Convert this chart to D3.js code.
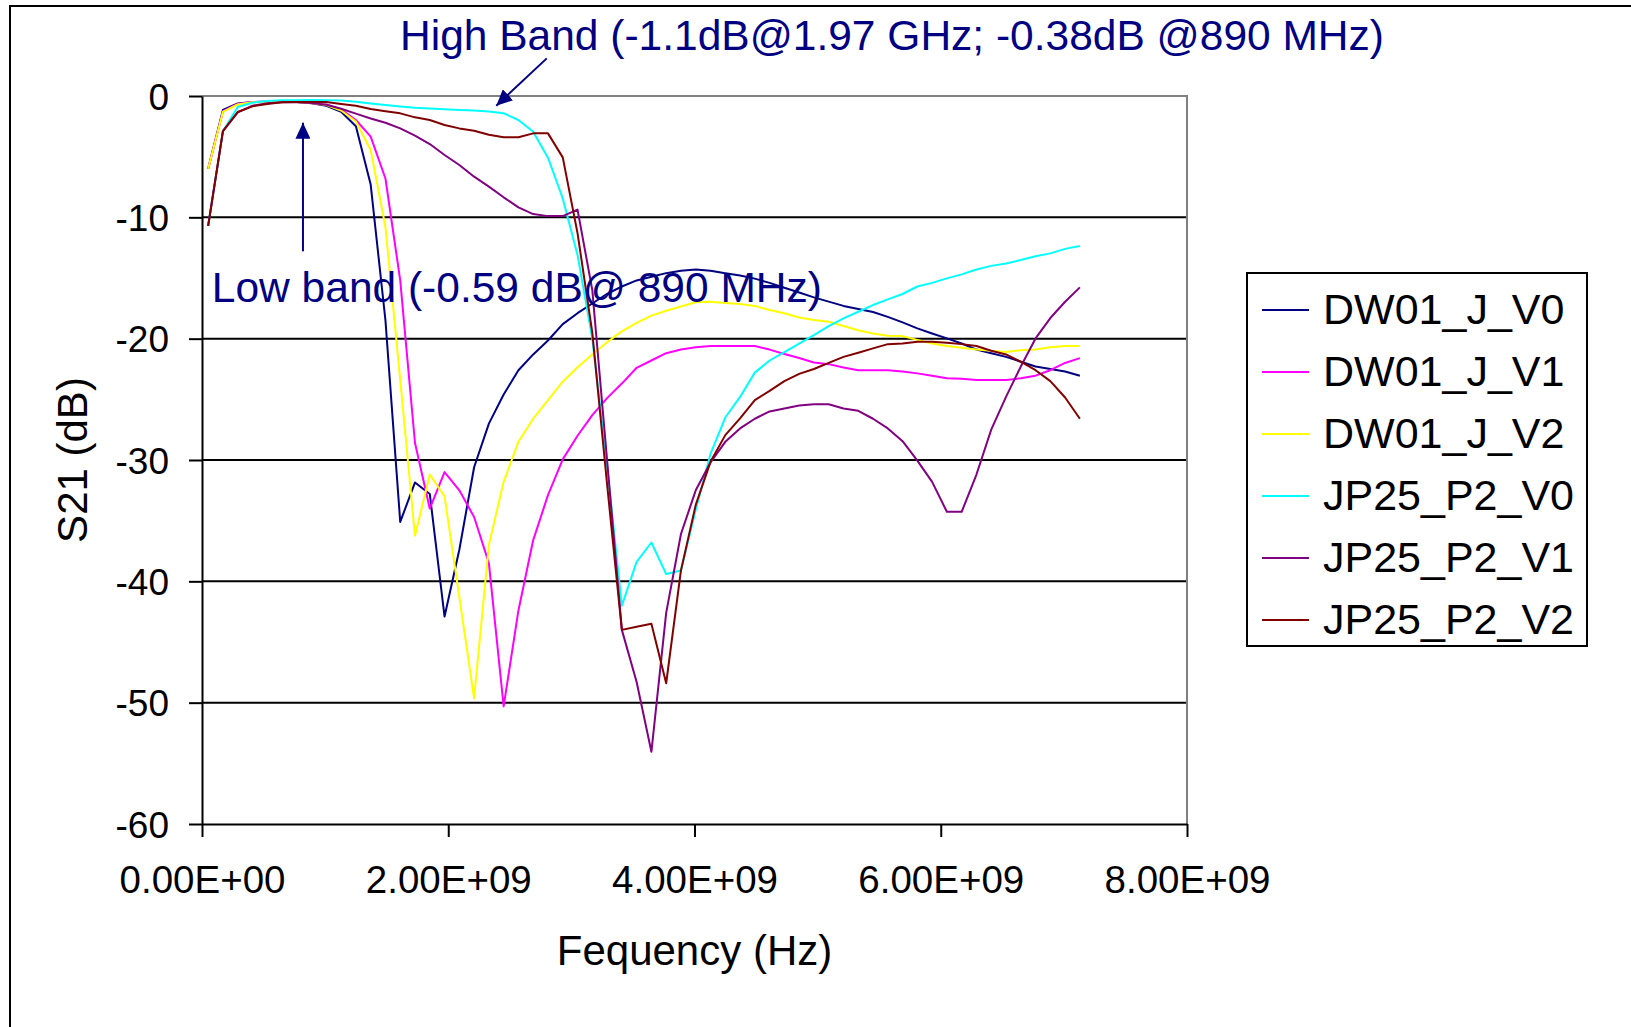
<!DOCTYPE html>
<html>
<head>
<meta charset="utf-8">
<script src="https://cdn.jsdelivr.net/npm/d3@7"></script>
<style>
  body { margin: 0; background: #fff; }
  text { font-family: "Liberation Sans", Arial, sans-serif; }
  .axis path, .axis line { stroke: #000; stroke-width: 2; }
  .axis text { font-size: 37px; fill: #000; }
  .xaxis text { font-size: 38.5px; }
</style>
</head>
<body>
<div id="my_dataviz"></div>
<script>
// Frequency points (GHz) and S21 readings (dB) per sample
var freqGHz = [0.05, 0.17, 0.29, 0.41, 0.53, 0.65, 0.77, 0.89, 1.01, 1.13,
    1.25, 1.37, 1.49, 1.61, 1.73, 1.85, 1.97, 2.09, 2.21, 2.33,
    2.45, 2.57, 2.69, 2.81, 2.93, 3.05, 3.17, 3.29, 3.41, 3.53,
    3.65, 3.77, 3.89, 4.01, 4.13, 4.25, 4.37, 4.49, 4.61, 4.73,
    4.85, 4.97, 5.09, 5.21, 5.33, 5.45, 5.57, 5.69, 5.81, 5.93,
    6.05, 6.17, 6.29, 6.41, 6.53, 6.65, 6.77, 6.89, 7.01, 7.13];

var dw01_v0 = [-6.0, -1.15, -0.62, -0.5, -0.47, -0.46, -0.5, -0.59, -0.8, -1.3,
    -2.5, -7.3, -18.5, -35.1, -31.85, -32.8, -42.9, -37.4, -30.6, -27.0,
    -24.6, -22.6, -21.3, -20.15, -18.8, -17.9, -17.1, -16.3, -15.7, -15.2,
    -14.9, -14.6, -14.4, -14.3, -14.4, -14.6, -14.8, -15.05, -15.4, -15.8,
    -16.2, -16.6, -16.95, -17.3, -17.56, -17.8, -18.2, -18.66, -19.15, -19.57,
    -19.98, -20.4, -20.9, -21.2, -21.5, -21.9, -22.3, -22.5, -22.7, -23.05];

var dw01_v1 = [-6.0, -1.25, -0.65, -0.5, -0.46, -0.45, -0.48, -0.57, -0.7, -1.1,
    -1.98, -3.35, -6.8, -15.2, -28.6, -34.0, -31.0, -32.5, -34.7, -38.5,
    -50.3, -42.4, -36.6, -32.9, -29.95, -28.0, -26.3, -24.9, -23.7, -22.4,
    -21.8, -21.2, -20.9, -20.7, -20.6, -20.6, -20.6, -20.6, -20.9, -21.27,
    -21.6, -21.96, -22.1, -22.37, -22.6, -22.6, -22.6, -22.7, -22.86, -23.05,
    -23.27, -23.3, -23.4, -23.4, -23.4, -23.27, -23.05, -22.6, -22.0, -21.6];

var dw01_v2 = [-6.0, -1.3, -0.7, -0.52, -0.48, -0.47, -0.5, -0.58, -0.75, -1.2,
    -2.1, -4.45, -10.8, -23.4, -36.25, -31.2, -33.0, -41.3, -49.65, -37.0,
    -31.8, -28.5, -26.6, -25.06, -23.55, -22.35, -21.3, -20.3, -19.4, -18.7,
    -18.1, -17.7, -17.35, -17.0, -16.96, -17.07, -17.15, -17.3, -17.64, -17.9,
    -18.25, -18.47, -18.6, -18.96, -19.3, -19.57, -19.76, -19.79, -20.1, -20.4,
    -20.6, -20.75, -20.9, -21.0, -21.1, -20.95, -20.9, -20.7, -20.6, -20.6];

var jp25_v0 = [-10.7, -2.9, -0.9, -0.55, -0.42, -0.36, -0.34, -0.33, -0.34, -0.38,
    -0.48, -0.62, -0.75, -0.87, -0.97, -1.04, -1.1, -1.15, -1.2, -1.28,
    -1.42, -1.98, -2.94, -5.08, -8.45, -13.1, -20.0, -30.5, -42.0, -38.4,
    -36.8, -39.4, -39.1, -34.1, -29.5, -26.5, -24.8, -22.8, -21.8, -21.1,
    -20.4, -19.7, -18.96, -18.33, -17.78, -17.23, -16.76, -16.32, -15.7, -15.4,
    -15.03, -14.7, -14.3, -14.0, -13.8, -13.52, -13.2, -12.97, -12.6, -12.37];

var jp25_v1 = [-10.7, -2.9, -1.35, -0.8, -0.6, -0.52, -0.52, -0.58, -0.72, -1.05,
    -1.45, -1.85, -2.2, -2.67, -3.27, -3.96, -4.86, -5.69, -6.65, -7.47,
    -8.35, -9.18, -9.73, -9.9, -9.9, -9.36, -16.0, -30.0, -44.0, -48.3,
    -54.05, -42.6, -36.1, -32.5, -30.2, -28.5, -27.4, -26.6, -26.0, -25.75,
    -25.5, -25.4, -25.4, -25.75, -25.95, -26.6, -27.4, -28.45, -30.05, -31.8,
    -34.27, -34.27, -31.2, -27.5, -24.8, -22.3, -19.98, -18.3, -16.96, -15.77];

var jp25_v2 = [-10.7, -2.9, -1.32, -0.85, -0.66, -0.52, -0.49, -0.49, -0.5, -0.66,
    -0.8, -1.07, -1.25, -1.43, -1.76, -1.98, -2.39, -2.67, -2.86, -3.2,
    -3.4, -3.4, -3.08, -3.08, -5.06, -11.3, -19.5, -32.0, -44.0, -43.75,
    -43.5, -48.4, -39.1, -33.7, -30.15, -27.95, -26.57, -25.06, -24.3, -23.5,
    -22.9, -22.5, -22.0, -21.5, -21.16, -20.8, -20.45, -20.4, -20.25, -20.25,
    -20.34, -20.45, -20.6, -21.0, -21.3, -21.9, -22.6, -23.5, -24.85, -26.6];

var seriesNames = ["DW01_J_V0", "DW01_J_V1", "DW01_J_V2", "JP25_P2_V0", "JP25_P2_V1", "JP25_P2_V2"];
var seriesValues = [dw01_v0, dw01_v1, dw01_v2, jp25_v0, jp25_v1, jp25_v2];
var seriesColors = ["#000080", "#ff00ff", "#ffff00", "#00ffff", "#800080", "#800000"];

var xTicks = [0, 2e9, 4e9, 6e9, 8e9];
var yTicks = [0, -10, -20, -30, -40, -50, -60];

// Canvas and margins
var fullWidth = 1631, fullHeight = 1027;
var margin = { top: 96, right: 444, bottom: 203, left: 202 },
    width = fullWidth - margin.left - margin.right,
    height = fullHeight - margin.top - margin.bottom;

var root = d3.select("#my_dataviz")
    .append("svg")
    .attr("width", fullWidth)
    .attr("height", fullHeight);

root.append("rect")
    .attr("width", fullWidth)
    .attr("height", fullHeight)
    .attr("fill", "#fff");

// chart area frame (runs off the right and bottom edges)
root.append("rect")
    .attr("x", 10)
    .attr("y", 6)
    .attr("width", fullWidth + 40)
    .attr("height", fullHeight + 40)
    .attr("fill", "none")
    .attr("stroke", "#000")
    .attr("stroke-width", 2);

var defs = root.append("defs");
defs.append("marker")
    .attr("id", "head")
    .attr("markerUnits", "userSpaceOnUse")
    .attr("viewBox", "0 0 16 15")
    .attr("markerWidth", 16)
    .attr("markerHeight", 15)
    .attr("refX", 16)
    .attr("refY", 7.5)
    .attr("orient", "auto")
    .append("path")
    .attr("d", "M0,0 L16,7.5 L0,15 Z")
    .attr("fill", "#000080");

var svg = root.append("g")
    .attr("transform", "translate(" + margin.left + "," + margin.top + ")");

// Scales
var x = d3.scaleLinear()
    .domain([0, 8e9])
    .range([0, width]);
var y = d3.scaleLinear()
    .domain([-60, 0])
    .range([height, 0]);

function sciFormat(v) {
    if (v === 0) return "0.00E+00";
    var exp = Math.floor(Math.log10(v));
    var mant = v / Math.pow(10, exp);
    return mant.toFixed(2) + "E+" + (exp < 10 ? "0" + exp : exp);
}

// horizontal gridlines
svg.append("g")
    .selectAll("line")
    .data(yTicks.filter(function (d) { return d < 0 && d > -60; }))
    .join("line")
    .attr("x1", 0)
    .attr("x2", width)
    .attr("y1", function (d) { return y(d); })
    .attr("y2", function (d) { return y(d); })
    .attr("stroke", "#000")
    .attr("stroke-width", 2);

// plot area border top/right in gray
svg.append("path")
    .attr("d", "M0," + y(0) + "H" + width + "V" + height)
    .attr("fill", "none")
    .attr("stroke", "#808080")
    .attr("stroke-width", 2);

// Axes
var xaxis = svg.append("g")
    .attr("class", "axis xaxis")
    .attr("transform", "translate(0," + height + ")")
    .call(d3.axisBottom(x)
        .tickValues(xTicks)
        .tickSize(13)
        .tickSizeOuter(0)
        .tickFormat(sciFormat));
xaxis.selectAll("text")
    .attr("y", 69)
    .attr("dy", 0);

var yaxis = svg.append("g")
    .attr("class", "axis")
    .call(d3.axisLeft(y)
        .tickValues(yTicks)
        .tickSize(13)
        .tickSizeOuter(0)
        .tickFormat(function (d) { return String(d); }));
yaxis.selectAll("text")
    .attr("x", -33)
    .attr("dy", "0.36em");

// Axis titles
root.append("text")
    .attr("x", margin.left + width / 2)
    .attr("y", 965)
    .attr("text-anchor", "middle")
    .style("font-size", "42px")
    .text("Fequency (Hz)");

root.append("text")
    .attr("transform", "translate(87," + (margin.top + height / 2) + ") rotate(-90)")
    .attr("text-anchor", "middle")
    .style("font-size", "42px")
    .text("S21 (dB)");

// Series lines
var line = d3.line()
    .x(function (d, i) { return x(freqGHz[i] * 1e9); })
    .y(function (d) { return y(d); });

svg.append("g")
    .selectAll("path")
    .data(seriesValues)
    .join("path")
    .attr("d", line)
    .attr("fill", "none")
    .attr("stroke", function (d, i) { return seriesColors[i]; })
    .attr("stroke-width", 2)
    .attr("stroke-linejoin", "round");

// Annotations
root.append("text")
    .attr("x", 400)
    .attr("y", 50)
    .attr("fill", "#000080")
    .style("font-size", "42.5px")
    .text("High Band (-1.1dB@1.97 GHz; -0.38dB @890 MHz)");

svg.append("line")
    .attr("x1", x(2.8e9))
    .attr("y1", y(3.1))
    .attr("x2", x(2.39e9))
    .attr("y2", y(-0.8))
    .attr("stroke", "#000080")
    .attr("stroke-width", 2)
    .attr("marker-end", "url(#head)");

svg.append("line")
    .attr("x1", x(0.82e9))
    .attr("y1", y(-12.8))
    .attr("x2", x(0.82e9))
    .attr("y2", y(-2.2))
    .attr("stroke", "#000080")
    .attr("stroke-width", 2)
    .attr("marker-end", "url(#head)");

svg.append("text")
    .attr("x", x(0.08e9))
    .attr("y", y(-17.0))
    .attr("fill", "#000080")
    .style("font-size", "42.5px")
    .text("Low band (-0.59 dB@ 890 MHz)");

// Legend
var legend = root.append("g")
    .attr("transform", "translate(1247,273)");
legend.append("rect")
    .attr("width", 340)
    .attr("height", 373)
    .attr("fill", "#fff")
    .attr("stroke", "#000")
    .attr("stroke-width", 2);

var rows = legend.selectAll("g.row")
    .data(seriesNames)
    .join("g")
    .attr("class", "row")
    .attr("transform", function (d, i) { return "translate(0," + (37 + i * 62) + ")"; });
rows.append("line")
    .attr("x1", 15)
    .attr("x2", 62)
    .attr("stroke", function (d, i) { return seriesColors[i]; })
    .attr("stroke-width", 2);
rows.append("text")
    .attr("x", 76)
    .attr("y", 13.5)
    .style("font-size", "43px")
    .text(function (d) { return d; });
</script>
</body>
</html>
